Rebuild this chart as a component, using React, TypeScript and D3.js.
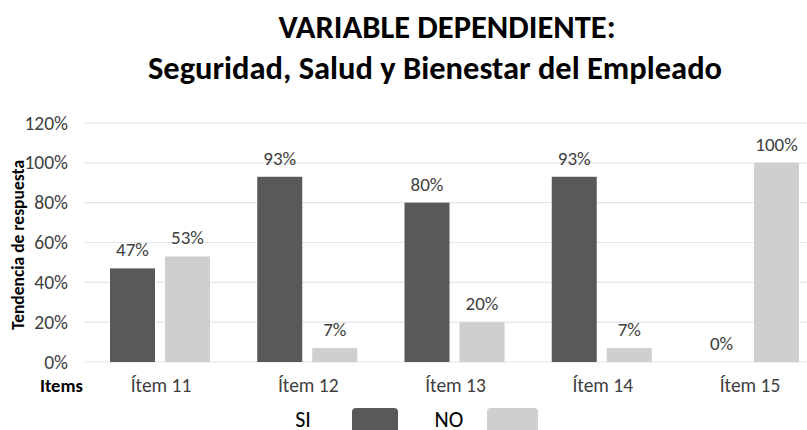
import React from "react";
import * as d3 from "d3";

const categories = ["Ítem 11", "Ítem 12", "Ítem 13", "Ítem 14", "Ítem 15"];
const seriesNames = ["SI", "NO"];
const siValues = [47, 93, 80, 93, 0];
const noValues = [53, 7, 20, 7, 100];
const yTicks = [0, 20, 40, 60, 80, 100, 120];
const colors = ["#595959", "#d0cece"];

export default function App() {
  const W = 807, H = 430;
  const x0 = 86.4, bandW = 147.25;
  const x = d3.scaleBand<string>().domain(categories).range([x0, x0 + bandW * categories.length]).paddingInner(0).paddingOuter(0);
  const inner = d3.scaleBand<string>().domain(seriesNames).range([23.6, 23.6 + 100]).paddingInner(0.1818).paddingOuter(0);
  const y = d3.scaleLinear().domain([0, 120]).range([362, 123]);
  const font = "Carlito, 'Open Sans', 'Liberation Sans', sans-serif";
  const series = [siValues, noValues];
  return (
    <svg width={W} height={H} style={{ position: "absolute", left: 0, top: 0, background: "#fff" }} fontFamily={font}>
      <text x={447} y={38} textAnchor="middle" fontSize={32.5} fontWeight="bold" fill="#000">VARIABLE DEPENDIENTE:</text>
      <text x={435} y={79} textAnchor="middle" fontSize={32.5} fontWeight="bold" fill="#000">Seguridad, Salud y Bienestar del Empleado</text>
      {yTicks.map((t) => (
        <g key={t}>
          <line x1={85} x2={W} y1={y(t)} y2={y(t)} stroke="#e1e5ec" strokeWidth={1.2} />
          <text x={68} y={y(t) + 6.5} textAnchor="end" fontSize={19.5} fill="#404040">{t}%</text>
        </g>
      ))}
      <text transform={`translate(24,245) rotate(-90)`} textAnchor="middle" fontSize={17.5} fontWeight="bold" fill="#000">Tendencia de respuesta</text>
      <text x={40} y={392} fontSize={18.5} fontWeight="bold" fill="#000">Items</text>
      {categories.map((c, i) => (
        <g key={c}>
          <text x={(x(c) as number) + bandW / 2 + 1} y={392} textAnchor="middle" fontSize={19.5} fill="#404040">{c}</text>
          {series.map((vals, s) => {
            const bx = (x(c) as number) + (inner(seriesNames[s]) as number);
            const bw = inner.bandwidth();
            const v = vals[i];
            return (
              <g key={s}>
                {v > 0 && <rect x={bx} y={y(v)} width={bw} height={y(0) - y(v)} fill={colors[s]} />}
                <text x={bx + bw / 2} y={y(v) - 12} textAnchor="middle" fontSize={19} fill="#404040">{v}%</text>
              </g>
            );
          })}
        </g>
      ))}
      <text x={303} y={427} textAnchor="middle" fontSize={22} fill="#000">SI</text>
      <rect x={352} y={408} width={46} height={30} rx={4} fill={colors[0]} />
      <text x={449} y={427} textAnchor="middle" fontSize={22} fill="#000">NO</text>
      <rect x={487} y={408} width={51} height={30} rx={4} fill={colors[1]} />
    </svg>
  );
}
